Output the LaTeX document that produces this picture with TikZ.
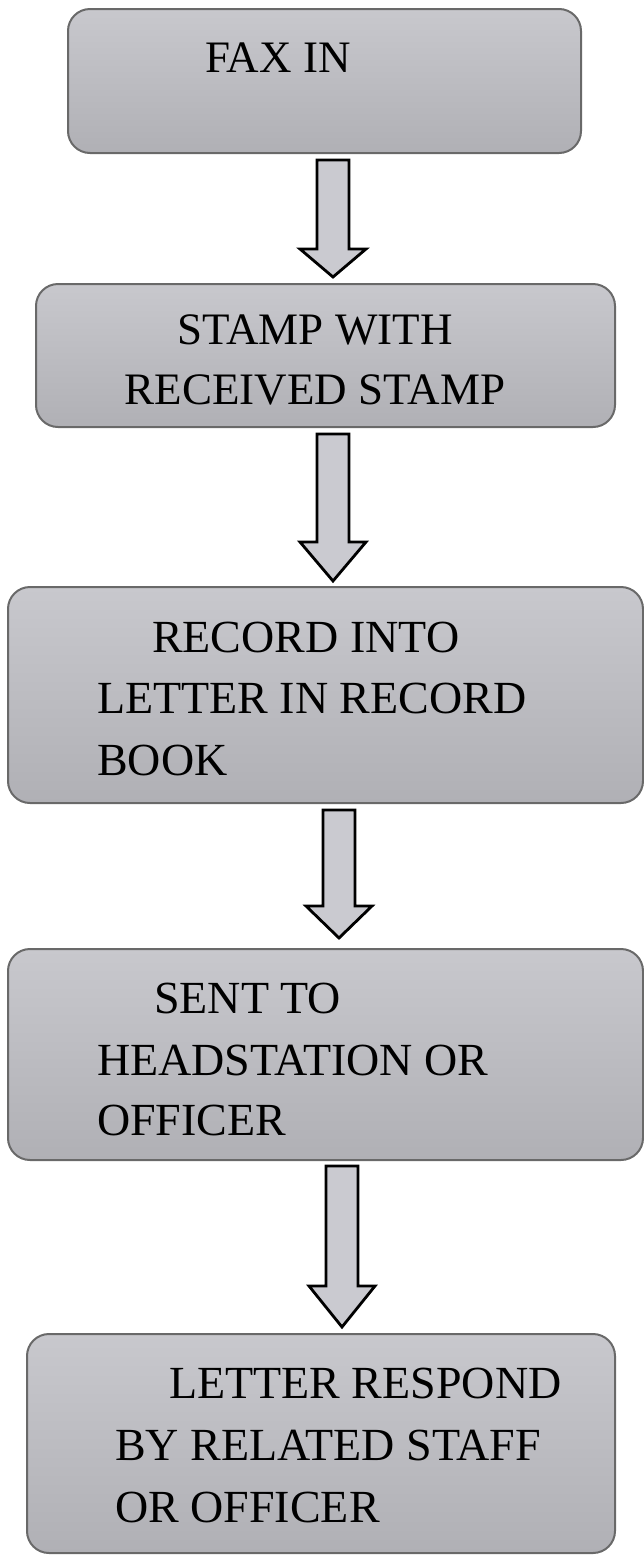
\documentclass[tikz,border=0pt]{standalone}
\usepackage{fontspec}
\setmainfont{Liberation Serif}
\usetikzlibrary{calc}
\definecolor{boxtop}{RGB}{200,200,205}
\definecolor{boxbot}{RGB}{176,176,181}
\definecolor{boxline}{RGB}{105,105,105}
\definecolor{arrowfill}{RGB}{202,202,208}
\tikzset{
  procbox/.style={draw=boxline, line width=2pt, rounded corners=22pt,
    top color=boxtop, bottom color=boxbot, inner sep=0pt},
  label line/.style={inner sep=0pt, anchor=base west,
    font=\fontsize{46}{55}\selectfont},
  label center/.style={inner sep=0pt, anchor=base,
    font=\fontsize{45}{54}\selectfont},
  arrowbox/.style={draw=black, line width=2.8pt, fill=arrowfill, line join=miter}
}
% #1 from node, #2 to node, #3 x offset, #4 top gap, #5 tip gap, #6 head length
\newcommand\flowarrow[6]{%
  \draw[arrowbox] let \p1=($(#1.south)+(#3,#4)$), \p2=($(#2.north)+(#3,-#5)$) in
    (\x1-16pt,\y1) -- (\x1+16pt,\y1) -- (\x1+16pt,\y2+#6) -- (\x1+33pt,\y2+#6)
    -- (\x1,\y2) -- (\x1-33pt,\y2+#6) -- (\x1-16pt,\y2+#6) -- cycle;}
\begin{document}
\begin{tikzpicture}[x=1pt,y=-1pt]
\useasboundingbox (0,0) rectangle (644,1564);
% boxes
\node[procbox, minimum width=513pt, minimum height=144pt] (b1) at (324.5,81) {};
\node[procbox, minimum width=579pt, minimum height=143pt] (b2) at (325.5,355.5) {};
\node[procbox, minimum width=635pt, minimum height=216pt] (b3) at (325.5,695) {};
\node[procbox, minimum width=635pt, minimum height=211pt] (b4) at (325.5,1054.5) {};
\node[procbox, minimum width=588pt, minimum height=219pt] (b5) at (321,1443.5) {};
% texts
\node[label line, font=\fontsize{45}{54}\selectfont] (t11) at (205,72) {FAX IN};
\node[label center] (t21) at (315,344) {STAMP WITH};
\node[label center] (t22) at (315,404) {RECEIVED STAMP};
\node[label line] (t31) at (152,652) {RECORD INTO};
\node[label line] (t32) at (97,713) {LETTER IN RECORD};
\node[label line] (t33) at (97,775) {BOOK};
\node[label line] (t41) at (154,1013) {SENT TO};
\node[label line] (t42) at (97,1075) {HEADSTATION OR};
\node[label line] (t43) at (97,1135) {OFFICER};
\node[label line] (t51) at (169,1398) {LETTER RESPOND};
\node[label line] (t52) at (115,1460) {BY RELATED STAFF};
\node[label line] (t53) at (115,1522) {OR OFFICER};
% arrows
\flowarrow{b1}{b2}{8.5}{6}{6}{28pt}
\flowarrow{b2}{b3}{7.5}{6}{5}{39pt}
\flowarrow{b3}{b4}{13.5}{6}{10}{32pt}
\flowarrow{b4}{b5}{16.5}{5}{6}{41pt}
\end{tikzpicture}
\end{document}
